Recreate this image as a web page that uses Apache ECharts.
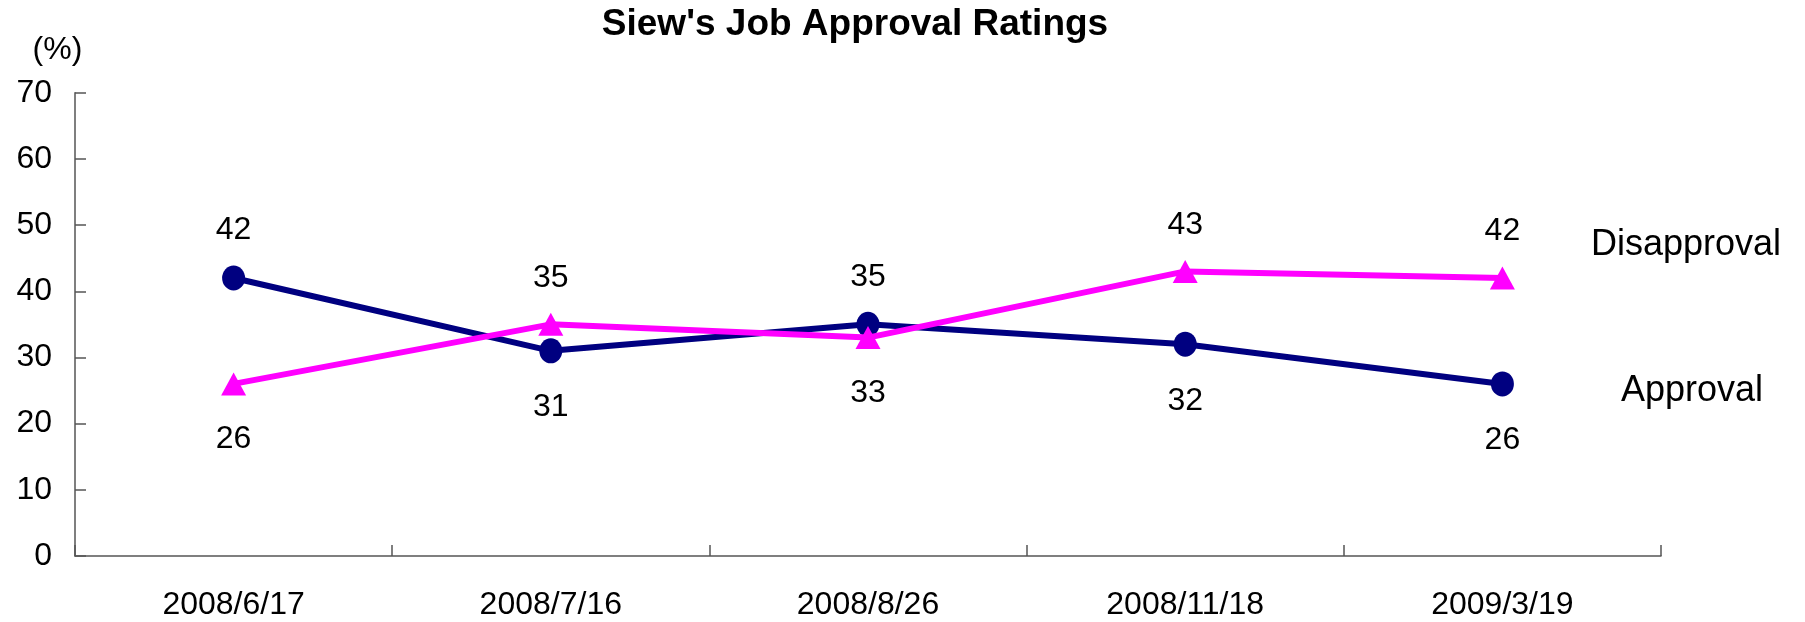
<!DOCTYPE html>
<html>
<head>
<meta charset="utf-8">
<script src="https://cdn.jsdelivr.net/npm/echarts@6/dist/echarts.min.js"></script>
<style>
html,body{margin:0;padding:0;background:#fff;}
#chart{width:1805px;height:622px;}
</style>
</head>
<body>
<div id="chart"></div>
<script>
const categories = ['2008/6/17', '2008/7/16', '2008/8/26', '2008/11/18', '2009/3/19'];
const approval = [42, 31, 35, 32, 26];
const disapproval = [26, 35, 33, 43, 42];
const yTicks = [0, 10, 20, 30, 40, 50, 60, 70];
const titleText = "Siew's Job Approval Ratings";
const unitText = '(%)';
const seriesNames = ['Approval', 'Disapproval'];

const FONT = '"Liberation Sans", Arial, Helvetica, sans-serif';

function withLabels(vals, other) {
  return vals.map((v, i) => {
    const above = v >= other[i];
    return {
      value: v,
      label: { position: above ? 'top' : 'bottom', distance: above ? 19 : 28 }
    };
  });
}

const chart = echarts.init(document.getElementById('chart'), null, { renderer: 'canvas' });
chart.setOption({
  backgroundColor: '#ffffff',
  animation: false,
  grid: { left: 75, right: 144, top: 92.7, bottom: 66, containLabel: false },
  xAxis: {
    type: 'category',
    data: categories,
    boundaryGap: true,
    axisLine: { lineStyle: { color: '#555555', width: 1.5 } },
    axisTick: { show: true, inside: true, length: 11, lineStyle: { color: '#555555', width: 1.5 } },
    axisLabel: { color: '#000', fontSize: 32, fontFamily: FONT, margin: 33 },
    splitLine: { show: false }
  },
  yAxis: {
    type: 'value',
    min: yTicks[0],
    max: yTicks[yTicks.length - 1],
    interval: yTicks[1] - yTicks[0],
    axisLine: { show: true, lineStyle: { color: '#555555', width: 1.5 } },
    axisTick: { show: true, inside: true, length: 11, lineStyle: { color: '#555555', width: 1.5 } },
    axisLabel: { color: '#000', fontSize: 32, fontFamily: FONT, margin: 23 },
    splitLine: { show: false }
  },
  series: [
    {
      name: seriesNames[0],
      type: 'line',
      data: withLabels(approval, disapproval),
      symbol: 'circle',
      symbolSize: [23, 25],
      lineStyle: { color: '#000080', width: 6 },
      itemStyle: { color: '#000080' },
      label: { show: true, color: '#000', fontSize: 32, fontFamily: FONT },
      z: 2
    },
    {
      name: seriesNames[1],
      type: 'line',
      data: withLabels(disapproval, approval),
      symbol: 'triangle',
      symbolSize: [25, 23],
      lineStyle: { color: '#FF00FF', width: 6 },
      itemStyle: { color: '#FF00FF' },
      label: { show: true, color: '#000', fontSize: 32, fontFamily: FONT },
      z: 3
    }
  ],
  graphic: [
    { type: 'text', x: 855, y: 25, style: { text: titleText, font: 'bold 37px ' + FONT, fill: '#000', textAlign: 'center', textVerticalAlign: 'middle' } },
    { type: 'text', x: 57.5, y: 50, style: { text: unitText, font: '32px ' + FONT, fill: '#000', textAlign: 'center', textVerticalAlign: 'middle' } },
    { type: 'text', x: 1686, y: 245, style: { text: seriesNames[1], font: '36px ' + FONT, fill: '#000', textAlign: 'center', textVerticalAlign: 'middle' } },
    { type: 'text', x: 1692, y: 391, style: { text: seriesNames[0], font: '36px ' + FONT, fill: '#000', textAlign: 'center', textVerticalAlign: 'middle' } }
  ]
});
</script>
</body>
</html>
